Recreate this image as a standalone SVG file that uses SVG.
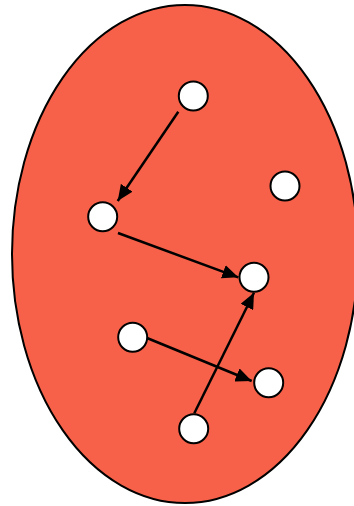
<svg xmlns="http://www.w3.org/2000/svg" width="354" height="506" viewBox="0 0 354 506">
<style>
.node{fill:#fff;stroke:#000;stroke-width:2}
.edge{stroke:#000;stroke-width:2.5;fill:none}
</style>
<defs>
<marker id="ah" viewBox="0 0 16 14" markerWidth="16" markerHeight="14" refX="16" refY="7" orient="auto" markerUnits="userSpaceOnUse">
<path d="M0,0 L16,7 L0,14 Z" fill="#000"/>
</marker>
</defs>
<g id="region"><ellipse cx="185" cy="254" rx="173" ry="249" fill="#F76149" stroke="#000" stroke-width="2"/></g>
<g id="connectors">
<line class="edge" marker-end="url(#ah)" x1="178.3" y1="111.7" x2="117.7" y2="201"/>
<line class="edge" marker-end="url(#ah)" x1="118" y1="233" x2="238.3" y2="277.3"/>
<line class="edge" marker-end="url(#ah)" x1="147" y1="338" x2="251.7" y2="381"/>
<line class="edge" marker-end="url(#ah)" x1="194.3" y1="413.3" x2="254" y2="292.7"/>
</g>
<g id="n1"><circle class="node" cx="193.3" cy="96" r="14.5"/></g>
<g id="n2"><circle class="node" cx="102.7" cy="216.7" r="14.5"/></g>
<g id="n3"><circle class="node" cx="285" cy="186" r="14.5"/></g>
<g id="n4"><circle class="node" cx="254" cy="277.3" r="14.5"/></g>
<g id="n5"><circle class="node" cx="132.7" cy="337.3" r="14.5"/></g>
<g id="n6"><circle class="node" cx="268.7" cy="382.7" r="14.5"/></g>
<g id="n7"><circle class="node" cx="193.7" cy="428.7" r="14.5"/></g>
</svg>
